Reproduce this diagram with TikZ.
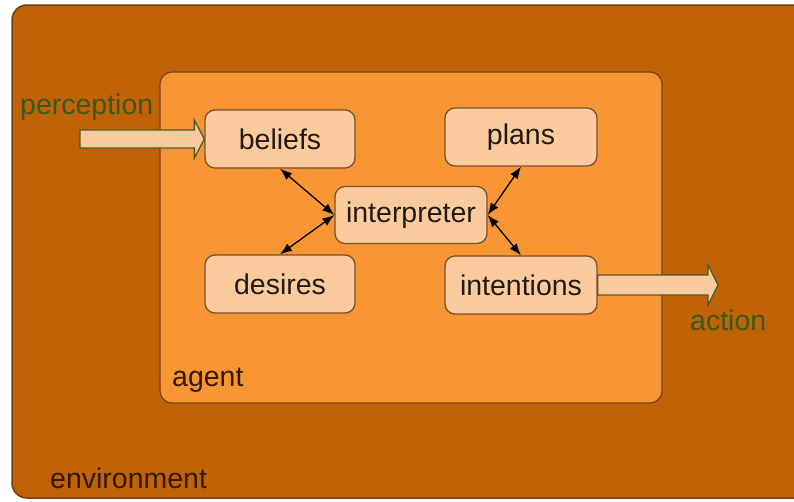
\documentclass[tikz,border=0pt]{standalone}
\usepackage{fontspec}
\setmainfont{Liberation Sans}
\usetikzlibrary{arrows.meta,calc}

\definecolor{envfill}{RGB}{192,98,6}
\definecolor{envline}{RGB}{110,62,20}
\definecolor{agentfill}{RGB}{247,150,50}
\definecolor{agentline}{RGB}{120,70,25}
\definecolor{boxfill}{RGB}{251,203,157}
\definecolor{boxline}{RGB}{120,80,45}
\definecolor{boxtext}{RGB}{35,26,20}
\definecolor{ioline}{RGB}{75,90,45}
\definecolor{iotext}{RGB}{60,88,28}
\definecolor{areatext}{RGB}{50,25,8}

\tikzset{
  concept/.style={draw=boxline, line width=1.3pt, fill=boxfill, rounded corners=10pt,
    text=boxtext, inner sep=0pt, minimum height=58pt},
  link/.style={{Latex[length=12pt,width=9pt]}-{Latex[length=12pt,width=9pt]}, line width=1.3pt, black},
  blockarrow/.style={draw=ioline, line width=1.3pt, fill=boxfill, line join=miter},
  iolabel/.style={text=iotext, inner sep=0pt},
  arealabel/.style={text=areatext, inner sep=0pt}
}

\begin{document}
\begin{tikzpicture}[x=1pt, y=-1pt, font=\fontsize{28.5}{34}\selectfont]
  \useasboundingbox (0,0) rectangle (794,501);
  \clip (0,0) rectangle (794,501);
  \fill[white] (0,0) rectangle (794,501);

  % environment and agent areas
  \draw[fill=envfill, draw=envline, line width=1.5pt, rounded corners=15pt] (12,5) rectangle (830,498);
  \draw[fill=agentfill, draw=agentline, line width=1.3pt, rounded corners=12pt] (160,72) rectangle (662,403);

  % components of the agent
  \node[concept, minimum width=150pt] (beliefs) at (280,139) {beliefs};
  \node[concept, minimum width=152pt] (plans) at (521,137) {plans};
  \node[concept, minimum width=152pt, minimum height=57pt] (interp) at (411,215) {interpreter};
  \node[concept, minimum width=150pt] (desires) at (280,284) {desires};
  \node[concept, minimum width=152pt] (intentions) at (521,285) {intentions};

  % links through the interpreter
  \draw[link] (beliefs.south) -- (interp.west);
  \draw[link] (desires.north) -- (interp.west);
  \draw[link] (plans.south) -- (interp.east);
  \draw[link] (intentions.north) -- (interp.east);

  % perception input
  \coordinate (pin) at (80,139);
  \draw[blockarrow]
    ($(pin)+(0,-9)$) -- ($(beliefs.west)+(-10,-9)$) -- ($(beliefs.west)+(-10,-19)$)
    -- (beliefs.west) -- ($(beliefs.west)+(-10,19)$) -- ($(beliefs.west)+(-10,9)$)
    -- ($(pin)+(0,9)$) -- cycle;

  % action output
  \coordinate (aout) at (718,285);
  \draw[blockarrow]
    ($(intentions.east)+(0,-10)$) -- ($(aout)+(-10,-10)$) -- ($(aout)+(-10,-20)$)
    -- (aout) -- ($(aout)+(-10,20)$) -- ($(aout)+(-10,10)$)
    -- ($(intentions.east)+(0,10)$) -- cycle;

  % labels
  \node[iolabel, anchor=base west] (perception) at (20,114) {perception};
  \node[iolabel, anchor=base west] (action) at (690,330) {action};
  \node[arealabel, anchor=base west] (agent) at (172,386) {agent};
  \node[arealabel, anchor=base west] (environment) at (50,488) {environment};
\end{tikzpicture}
\end{document}
